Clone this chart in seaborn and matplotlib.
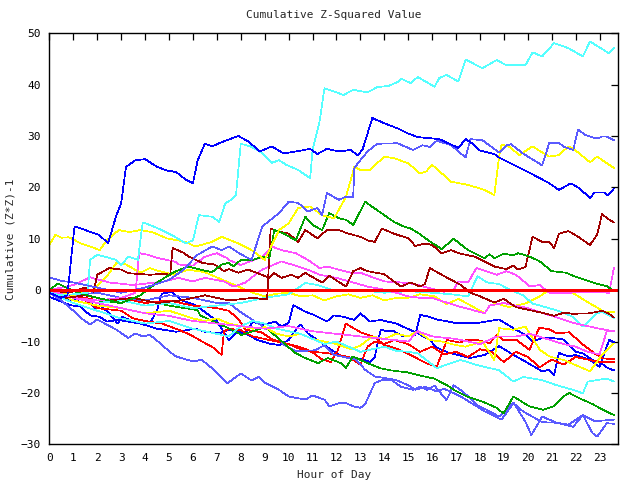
import matplotlib
matplotlib.use("Agg")
import matplotlib.pyplot as plt
import seaborn as sns
import pandas as pd

# ---------------- data (hour, cumulative value) ----------------
blue_a = [(0,-0.5),(0.5,-1.5),(0.75,-1),(1.05,12.4),(1.5,11.7),(2.1,10.7),(2.45,9.1),(2.8,14.6),(3.0,16.9),(3.2,24),(3.6,25.3),(4.0,25.5),(4.5,24),(4.9,23.3),(5.3,23),(5.7,21.5),(6.0,20.8),(6.2,25.3),(6.5,28.5),(6.8,28),(7.3,29),(7.9,30),(8.3,29),(8.8,27),(9.3,28),(9.8,26.6),(10.3,27),(10.9,27.5),(11.2,26.5),(11.6,27.5),(12.1,27),(12.6,27.3),(12.9,26.2),(13.1,27.5),(13.5,33.5),(14.0,32.5),(14.55,31.5),(15.0,30.5),(15.4,29.8),(16.3,29.4),(17.1,27.7),(17.4,29.4),(17.7,28.5),(18.0,27.2),(18.6,26.5),(18.8,25.8),(19.4,24.4),(20.1,22.8),(20.5,21.8),(20.9,20.8),(21.3,19.5),(21.8,20.8),(22.1,20),(22.6,18),(22.8,19),(23.2,19),(23.35,18.4),(23.6,19.8)]
slate_a = [(0,2.5),(0.5,1.8),(1,1.5),(2,0.5),(3,-0.5),(4,0.5),(5,2),(5.5,3.6),(6.2,6.9),(6.8,8.5),(7.2,7.8),(7.5,8.5),(8,7),(8.45,5.9),(8.9,12.4),(9.6,15),(10,17.2),(10.4,17),(10.8,15.3),(11.2,16),(11.4,14.6),(11.6,18.9),(12.1,17.6),(12.4,18.2),(12.7,18.2),(12.75,23.8),(13,25.3),(13.3,27),(13.7,28.5),(14.55,28.6),(15.2,27.3),(15.6,28.2),(15.9,27.9),(16.2,29.1),(16.8,28.2),(17.4,25.8),(17.6,29.4),(18.1,29.2),(18.8,26.8),(19.1,28.2),(19.3,28.4),(19.8,26.6),(20.6,24.3),(20.9,28.7),(21.3,28.7),(21.5,27.9),(21.9,27.3),(22.1,31.3),(22.4,30.2),(22.9,29.5),(23.1,29.9),(23.3,29.9),(23.6,29.2)]
cyan_a = [(0,-0.5),(0.5,-1),(1,-0.8),(1.6,-0.5),(1.7,5.9),(2,6.9),(2.8,5.9),(3,4.9),(3.3,6.5),(3.7,5.9),(3.9,13.2),(4.3,12.5),(4.7,11.7),(5.2,10.5),(5.7,9.1),(6.0,9.7),(6.25,14.6),(6.8,14.3),(7.1,13.3),(7.35,16.9),(7.6,17.6),(7.8,18.5),(8.0,28.5),(8.4,28),(8.8,27),(9.3,24.8),(9.6,25.3),(9.9,24.4),(10.4,23.4),(10.9,21.8),(11.0,27.2),(11.3,33),(11.5,39.3),(12,38.5),(12.3,38),(12.7,39),(13.3,38.5),(13.7,39.5),(14.2,39.8),(14.55,40.5),(14.7,41.2),(15.1,40.3),(15.4,41.5),(16.1,39.6),(16.3,41.3),(16.6,41.9),(17.1,40.6),(17.4,44.9),(18.1,43.2),(18.7,44.8),(19.1,43.8),(19.9,43.8),(20.2,46.3),(20.6,45.5),(21.1,48.1),(21.7,47.1),(22.3,45.5),(22.6,48.4),(23.4,46.1),(23.6,47.2)]
yellow_a = [(0,8.8),(0.25,10.8),(0.5,10.2),(0.8,10.3),(1,9.9),(1.3,9.1),(1.7,8.5),(2.1,7.8),(2.4,9.7),(2.9,11.7),(3.35,11.3),(3.8,11.7),(4.3,11.3),(4.9,10.1),(5.7,9.4),(6.1,8.5),(6.8,9.4),(7.2,10.4),(7.9,9.1),(8.45,7.8),(9.0,5.9),(9.6,11.7),(10.0,13),(10.4,16),(10.9,16.3),(11.4,14.6),(11.9,14),(12.4,18.2),(12.75,24),(13.0,23.4),(13.4,23.4),(14,26),(14.4,25.7),(15,24.7),(15.5,22.7),(15.75,23.1),(16.0,24.4),(16.8,21.1),(17.5,20.5),(18.2,19.5),(18.6,18.5),(18.8,26),(18.9,28.3),(19.2,28),(19.65,26.3),(20.2,28),(20.6,26.8),(20.9,26),(21.3,26.3),(21.7,28),(22.0,27.2),(22.6,24.9),(22.9,26),(23.4,24.4),(23.6,23.8)]
green_a = [(0,0),(0.35,1.3),(0.7,0.5),(1.2,-0.5),(2,-1.5),(3,-2.5),(3.8,-1),(4.5,1.5),(5.2,3.5),(5.8,4.6),(6.3,4),(6.8,3.5),(7.2,5),(7.5,5.3),(7.7,4.6),(8.0,5.9),(8.45,5.8),(8.9,6.5),(9.2,6.3),(9.4,11.7),(9.8,11),(10.3,9.7),(10.7,14.3),(11.0,12.7),(11.4,11.7),(11.7,15),(12.1,14),(12.4,13.7),(12.7,12.7),(13.2,17.2),(13.6,15.9),(14,14.6),(14.4,13.3),(14.8,12.4),(15.1,12),(15.4,11.2),(15.9,9.5),(16.4,8),(16.9,10),(17.5,7.8),(18.2,6.2),(18.4,7),(18.6,6.2),(19,7.1),(19.4,6.8),(19.6,7.2),(20.1,6.5),(20.5,5.6),(21,3.7),(21.6,3.4),(21.9,2.8),(22.6,1.7),(23,1.1),(23.3,0.8),(23.6,-0.2)]
darkred_a = [(0,-0.5),(0.7,-1.5),(1.5,-1),(2.5,-2),(3.5,-1.5),(4.5,-2.5),(5.5,-2),(6.5,-1),(7.5,-2),(8.5,-1.5),(9.1,-1.8),(9.25,12),(9.6,11.4),(10.0,11),(10.4,9.4),(10.7,11.7),(11.2,10.1),(11.6,11.7),(12.1,11.7),(12.5,11),(13,10.4),(13.3,9.7),(13.6,9.4),(13.9,12),(14.4,11),(15,10.1),(15.3,8.6),(15.7,9.1),(16.0,8.8),(16.4,7.2),(16.8,7.8),(17.1,7.2),(17.8,6.5),(18.6,4.6),(19.1,4.1),(19.4,4.8),(19.6,4.0),(19.9,4.5),(20.2,10.4),(20.6,9.4),(20.9,9.4),(21.1,8.2),(21.3,11),(21.7,11.5),(22.1,10.4),(22.6,8.8),(22.9,10.8),(23.1,14.8),(23.35,13.9),(23.6,13.2)]
darkred_b = [(0,0),(0.8,-0.5),(1.5,0.5),(1.85,-0.3),(2.0,3),(2.5,4.3),(3.0,4),(3.3,3.3),(4.2,3),(4.8,3.2),(5.05,3),(5.15,8.2),(5.6,7.3),(5.8,6.6),(6.4,5.3),(6.9,5),(7.3,3.7),(7.5,4.1),(7.9,3.4),(8.3,4.0),(8.6,3.5),(9.2,2.4),(9.4,3.3),(9.7,2.4),(10.1,3.0),(10.4,2.4),(10.7,3.4),(10.9,2.8),(11.4,1.5),(11.7,2.8),(12.4,0.7),(12.7,3.7),(13,4.3),(13.3,3.7),(14,3.1),(14.4,1.7),(14.7,0.7),(15.1,1.5),(15.5,0.7),(15.7,1.2),(15.9,4.3),(16.4,3.0),(16.8,2.0),(17.2,1),(17.6,-0.5),(18,-1.2),(18.6,-2.4),(19,-1.7),(19.5,-3.3),(20.2,-4.0),(20.6,-4.4),(21.1,-5.0),(21.5,-4.4),(21.9,-4.6),(22.6,-4.5),(23.1,-4),(23.4,-4.6),(23.6,-5.3)]
magenta_a = [(0,-0.5),(1,-1.5),(2,-2),(3,-1.5),(3.6,-0.5),(3.75,7.2),(4.1,6.9),(4.5,6.3),(4.9,5.9),(5.3,5.5),(5.4,5.0),(6.0,4.8),(6.5,6.5),(7.0,7.2),(7.4,6.3),(7.5,5.9),(8.0,4.9),(8.9,6.5),(9.3,8.5),(9.7,7.8),(10.3,7.2),(10.8,5.9),(11.3,4.3),(11.6,4.6),(12.1,4.0),(12.6,3.4),(13.0,3.4),(13.4,2.7),(14.0,1.7),(14.7,1.5),(15.25,1.2),(15.8,0.5),(16.5,-0.3),(16.9,0.1),(17.1,1.7),(17.5,1.5),(17.85,4.3),(18.7,3.0),(19.1,3.7),(19.5,3.0),(20.1,0.7),(20.5,1.0),(20.9,-0.5),(21.7,-0.5),(22.6,-0.4),(23.4,-0.5),(23.6,4.3)]
magenta_b = [(0,0),(1,1),(1.7,2.5),(2.5,1.5),(3.5,1),(4.8,1.7),(5.4,2.4),(6,1.7),(6.5,2.4),(7.3,1.7),(7.7,0.7),(8.2,1.5),(8.6,3),(8.9,4),(9.7,5.6),(10.2,4.9),(10.8,4.0),(11.3,3.0),(12.0,2.4),(12.7,1.5),(13.3,0.7),(14.0,0.1),(14.5,-0.5),(15,-1.2),(15.5,-1.5),(16,-1.5),(17,-3),(18.2,-4.5),(18.4,-3),(19,-2.5),(20,-3.5),(21,-5),(22,-6.5),(23,-7.5),(23.6,-8)]
magenta_c = [(0,0),(1,-1.5),(2,-2.5),(3,-3.5),(4,-4.5),(5,-5),(6,-6),(7,-6.5),(8,-7),(9,-7.5),(10,-7),(11,-8),(12,-8.5),(13,-9),(14,-9.5),(15,-10),(15.4,-8),(16,-9),(17,-9.5),(18,-10.5),(18.7,-9),(19.5,-9),(20.1,-8.5),(20.8,-9.5),(21.5,-10.5),(22,-11),(22.5,-12),(23,-12.5),(23.3,-8),(23.6,-8)]
cyan_b = [(0,-0.5),(1,-2.5),(2,-4),(3,-5.5),(4,-6.5),(5,-6),(6,-7.5),(7,-8.5),(7.5,-9),(8,-7),(8.5,-6),(9,-6.5),(9.5,-7.5),(10,-8),(10.5,-8.5),(11,-9.5),(11.5,-10.5),(12,-10),(12.5,-11),(13,-12),(13.5,-11.5),(14,-11),(14.5,-11.8),(15,-12),(15.4,-12.3),(16.2,-15.2),(16.6,-14.5),(17.2,-13.6),(17.9,-14.6),(18.8,-15.6),(19.4,-17.8),(19.8,-16.9),(20.6,-17.5),(21.2,-18.5),(21.9,-19.4),(22.3,-20.1),(22.5,-17.8),(22.9,-17.5),(23.3,-17.2),(23.6,-17.8)]
cyan_c = [(0,0),(1,-1.5),(2,-2.5),(3,-2),(4,-3),(5,-2.5),(6,-3.5),(7,-3),(8,-2.5),(9,-1.5),(10,-0.8),(10.7,1.4),(11.2,1.0),(12,-0.2),(13,0.0),(14,-0.5),(15,-0.2),(16,-0.5),(16.8,-0.8),(17.5,-1.2),(17.9,2.7),(18.3,1.5),(18.8,1.2),(19.2,0.2),(19.8,-1),(20.2,-2.6),(21.2,-3.9),(21.9,-5.2),(22.3,-7.1),(22.9,-4.5),(23.1,-4.2),(23.6,-5.4)]
yellow_b = [(0,0),(1,-1),(1.8,0),(2.4,2.7),(2.8,5.3),(3.2,5),(3.8,3.4),(4.2,4.3),(4.6,3.7),(5.2,3),(5.8,4),(6.5,3.5),(7,2.5),(7.5,1.5),(8,0.5),(8.5,-0.5),(9,-1.2),(9.5,-0.7),(10,-0.5),(10.5,-1.2),(11,-1.0),(11.5,-2),(12,-1.2),(12.5,-0.8),(13,-1.5),(13.5,-1.0),(14,-2),(14.5,-1.5),(15,-1.5),(15.5,-0.8),(16.1,-1.2),(16.6,-2.7),(17.1,-1.7),(17.5,-2.7),(18.2,-4.5),(18.4,-3),(18.7,-2.6),(19.2,-3.3),(19.9,-2.6),(20.5,-1.2),(20.9,0.1),(21.9,-0.6),(22.6,-2.6),(23.2,-4.2),(23.6,-4.2)]
yellow_c = [(0,0),(1,-2),(2,-3),(3,-3.5),(4,-4.5),(5,-4),(6,-5.5),(6.5,-6),(7,-5.5),(7.5,-6.5),(8,-7),(8.5,-7.5),(9,-7.2),(9.5,-8.5),(10,-9),(10.5,-8.5),(11,-9.5),(11.5,-10),(12,-10.5),(12.6,-11.5),(13,-10.8),(13.5,-9),(14,-9.5),(14.5,-8.5),(15,-9),(15.4,-8),(15.9,-9.7),(16.4,-10),(17,-10.7),(17.4,-11),(18.1,-10),(18.6,-13.6),(18.8,-7.4),(19.4,-7.7),(19.9,-7.1),(20.5,-11.6),(20.9,-12.9),(21.5,-13.6),(22,-14.6),(22.6,-15.8),(23.1,-12.6),(23.6,-10.4)]
green_b = [(0,0),(0.5,-1),(1,-1.5),(2,-2),(3,-2.5),(3.5,-1.5),(4,-2),(5,-3),(6.2,-3.9),(6.3,-4.9),(7.0,-6.4),(7.49,-7.4),(8.03,-8.7),(9.03,-7.2),(10.27,-12.2),(10.69,-13.2),(11.23,-14.2),(11.64,-13.2),(12.18,-14.2),(12.39,-15.2),(12.68,-12.9),(13.3,-14.2),(13.84,-15.2),(14.26,-15.6),(14.96,-16),(15.38,-16.5),(16.08,-17.2),(16.62,-18.5),(16.91,-19.4),(17.45,-20.7),(18.16,-21.8),(18.69,-22.9),(18.98,-24),(19.4,-20.7),(20.06,-22.6),(20.64,-23.3),(21.1,-22.6),(21.48,-20.7),(21.73,-20),(22.14,-21),(22.72,-22.2),(23.14,-23.3),(23.6,-24.3)]
slate_b = [(0,-0.5),(0.5,-2),(1,-4),(1.4,-5.7),(1.7,-6.7),(2.0,-5.7),(2.4,-6.7),(2.8,-7.7),(3.3,-9.3),(3.6,-8.4),(3.9,-9),(4.2,-8.7),(4.7,-10.6),(5.0,-11.9),(5.3,-12.9),(5.7,-13.5),(6.05,-13.9),(6.35,-13.5),(6.8,-15.2),(7.2,-17.1),(7.45,-18.1),(8.0,-16.2),(8.45,-17.6),(8.75,-16.9),(9.0,-18),(9.6,-19.4),(10,-20.7),(10.7,-21.3),(11.0,-20.5),(11.5,-21.3),(11.7,-22.6),(12.1,-22),(12.4,-22),(12.7,-22.6),(13.0,-22.9),(13.2,-22.2),(13.6,-18.1),(13.9,-17.5),(14.3,-17.5),(14.7,-18.8),(15.2,-19.4),(15.5,-18.8),(15.8,-19.4),(16.1,-18.6),(16.6,-21.4),(16.9,-18.5),(17.3,-19.8),(17.9,-22.4),(18.4,-23.6),(18.8,-24.6),(19.4,-21.9),(19.9,-25.6),(20.15,-28.2),(20.6,-24.6),(21.2,-25.8),(21.7,-26.2),(22.3,-24.3),(22.7,-27.8),(22.9,-28.5),(23.3,-25.9),(23.6,-26)]
slate_c = [(0,0),(1,-1),(2,-0.5),(3,-1.5),(4,-2),(5,-1),(6,-1.5),(7,-2.5),(7.5,-2.5),(8,-4.3),(8.7,-6.4),(9.4,-8.4),(9.8,-10.6),(10.3,-11.9),(11.1,-11.7),(11.5,-10.7),(11.9,-12.6),(12.8,-13.5),(13.2,-15.5),(13.6,-16.8),(14.0,-17.1),(14.5,-17.5),(15.0,-18.5),(15.3,-19.4),(15.7,-18.8),(16.2,-19.7),(16.5,-19.2),(17.2,-20.7),(18.2,-23.6),(18.9,-25.2),(19.4,-22),(19.8,-23.6),(20.6,-25.7),(21.2,-25.8),(21.9,-26.6),(22.3,-24.3),(22.8,-25.5),(23.6,-25.2)]
red_a = [(0,0),(1,-1),(2,-2),(3,-1.5),(4,-2.5),(5,-2),(6,-3),(7,-3.5),(7.49,-4),(7.9,-5.6),(8.2,-7.7),(8.87,-8.2),(9.28,-9.5),(9.7,-10.2),(10.27,-10.8),(10.69,-11.4),(11.1,-12.4),(11.35,-13.4),(11.77,-14),(12.06,-11.7),(12.39,-6.5),(13.01,-8.2),(13.59,-9.1),(14.0,-10.7),(14.26,-11),(14.68,-11.7),(15.09,-12.6),(15.5,-13.6),(15.79,-14.3),(16.2,-14.8),(16.62,-9.7),(17.16,-10.2),(17.45,-9.7),(17.87,-9.7),(18.41,-10.3),(18.7,-8.7),(18.98,-9.7),(19.53,-9.7),(20.07,-11.6),(20.48,-7.3),(20.9,-7.6),(21.19,-8.4),(21.73,-8.2),(22.31,-10.6),(22.85,-12.5),(23.14,-13.3),(23.6,-13.4)]
red_b = [(0,0),(0.5,-1.5),(1,-1),(1.5,-2),(2,-3.5),(3,-4),(3.5,-5.5),(4,-6),(4.7,-6.5),(5.4,-7.7),(5.9,-8.7),(6.5,-10.3),(6.8,-11),(7.2,-12.6),(7.3,-8),(7.5,-7.5),(8,-7.8),(8.5,-9),(9,-9.5),(9.5,-10),(10,-10.5),(10.5,-11.5),(11,-12),(11.5,-12.2),(12,-12.5),(12.5,-13),(13,-14.5),(13.3,-11),(13.6,-10),(14.0,-10.5),(14.4,-9.7),(15,-10.5),(15.5,-12),(16,-11),(16.5,-12.5),(17,-12),(17.5,-13),(18,-11.5),(18.5,-12),(19,-14),(19.5,-12),(20,-13),(20.5,-15),(21,-13.5),(21.5,-14.5),(22,-13),(22.5,-13.5),(23,-14),(23.6,-14)]
blue_b = [(0,-1.3),(0.85,-2.9),(1.3,-3.2),(1.7,-4.9),(2.1,-5.2),(2.4,-6.1),(2.9,-5.8),(3.8,-6.5),(4.5,-7.5),(4.9,-7.8),(5.3,-8.1),(5.7,-7.8),(6.1,-7.5),(6.5,-8.1),(7.1,-8.4),(7.5,-7.7),(8.3,-8.7),(8.7,-9.7),(9.2,-10.4),(9.6,-10.7),(10,-9.7),(10.3,-7.7),(10.5,-6.7),(10.8,-8.4),(11.2,-9.7),(11.6,-11),(12.1,-12.6),(12.5,-13),(12.8,-13.6),(13.0,-13.3),(13.4,-14),(13.6,-13),(13.85,-7.7),(14.1,-8),(14.4,-8),(14.8,-9),(15.3,-8.7),(15.5,-4.8),(15.8,-5.1),(16.2,-5.7),(17.0,-6.4),(17.9,-6.4),(18.8,-5.7),(19.4,-7.4),(20.0,-9),(20.2,-10),(20.6,-9.3),(21.0,-9.3),(21.5,-9.6),(22.0,-12),(22.3,-12.3),(22.7,-13.6),(23.1,-14.3),(23.35,-15.2),(23.6,-15.6)]
blue_c = [(0,0),(0.45,-1.3),(1.0,-2),(1.6,-1.6),(1.9,-3.6),(2.1,-2.9),(2.5,-4.5),(2.85,-6.5),(3.05,-5.2),(3.5,-6.1),(3.8,-6.5),(4.2,-6.5),(4.5,-3.9),(4.7,-0.7),(5.1,-0.3),(5.5,-1.9),(6.1,-2.9),(6.4,-3.9),(7.0,-6),(7.5,-9.7),(7.85,-8),(8.2,-8.4),(8.5,-6.1),(8.9,-6.8),(9.45,-6.1),(9.7,-7.1),(10.0,-6.4),(10.2,-2.9),(10.7,-4.2),(11.1,-4.9),(11.6,-6.1),(11.9,-4.9),(12.3,-5.2),(12.75,-5.8),(13.0,-4.5),(13.4,-6.1),(13.85,-5.8),(14.5,-6.5),(15.4,-8.4),(15.9,-9.7),(16.2,-11.2),(16.7,-12.2),(17.6,-13.2),(18.2,-12.6),(18.8,-10.9),(19.4,-12.6),(19.9,-13.9),(20.6,-15.8),(20.9,-15.5),(21.1,-16.5),(21.3,-12.2),(21.7,-12.9),(22.0,-12.6),(22.6,-13.6),(23.0,-14.9),(23.4,-9.7),(23.6,-10.1)]
zero_level = 0

series = [
    ("blue_c", blue_c, "#0000ff"), ("blue_b", blue_b, "#0000ff"),
    ("red_b", red_b, "#ff0000"), ("red_a", red_a, "#ff0000"),
    ("slate_c", slate_c, "#5a5aff"), ("slate_b", slate_b, "#5a5aff"),
    ("green_b", green_b, "#00a000"), ("yellow_c", yellow_c, "#ffff00"),
    ("yellow_b", yellow_b, "#ffff00"), ("cyan_c", cyan_c, "#55ffff"),
    ("cyan_b", cyan_b, "#55ffff"), ("magenta_c", magenta_c, "#ff50ff"),
    ("magenta_b", magenta_b, "#ff50ff"), ("magenta_a", magenta_a, "#ff50ff"),
    ("darkred_b", darkred_b, "#a00000"), ("darkred_a", darkred_a, "#a00000"),
    ("green_a", green_a, "#00a000"), ("yellow_a", yellow_a, "#ffff00"),
    ("cyan_a", cyan_a, "#55ffff"), ("slate_a", slate_a, "#5a5aff"),
    ("blue_a", blue_a, "#0000ff"),
]

rows = []
for name, pts, col in series:
    for h, v in pts:
        rows.append({"series": name, "hour": h, "value": v})
df = pd.DataFrame(rows)
palette = {name: col for name, pts, col in series}

sns.set_style("white")
plt.rcParams["font.family"] = ["DejaVu Sans Mono"]

fig = plt.figure(figsize=(6.4, 4.8), dpi=100)
ax = fig.add_axes([0.0772, 0.0744, 0.8884, 0.8562])

sns.lineplot(data=df, x="hour", y="value", hue="series", palette=palette,
             hue_order=[s[0] for s in series], estimator=None, sort=False,
             linewidth=0.5, legend=False, ax=ax)
for ln in ax.get_lines():
    ln.set_antialiased(False)
ax.axhline(zero_level, color="#ff0000", linewidth=1.0, antialiased=False)

ax.set_xlim(0, 23.77)
ax.set_ylim(-30, 50)
ax.set_xticks(range(0, 24))
ax.set_yticks(range(-30, 51, 10))
ax.tick_params(direction="in", length=5, width=0.9, top=True, right=True,
               labelsize=8, colors="black", pad=6)
for sp in ax.spines.values():
    sp.set_color("black")
    sp.set_linewidth(1.0)
ax.set_title("Cumulative Z-Squared Value", fontsize=8, pad=11)
ax.set_xlabel("Hour of Day", fontsize=8, labelpad=5)
ax.set_ylabel("Cumulative (Z*Z)-1", fontsize=8, labelpad=4)

fig.savefig("out.png", dpi=100)
